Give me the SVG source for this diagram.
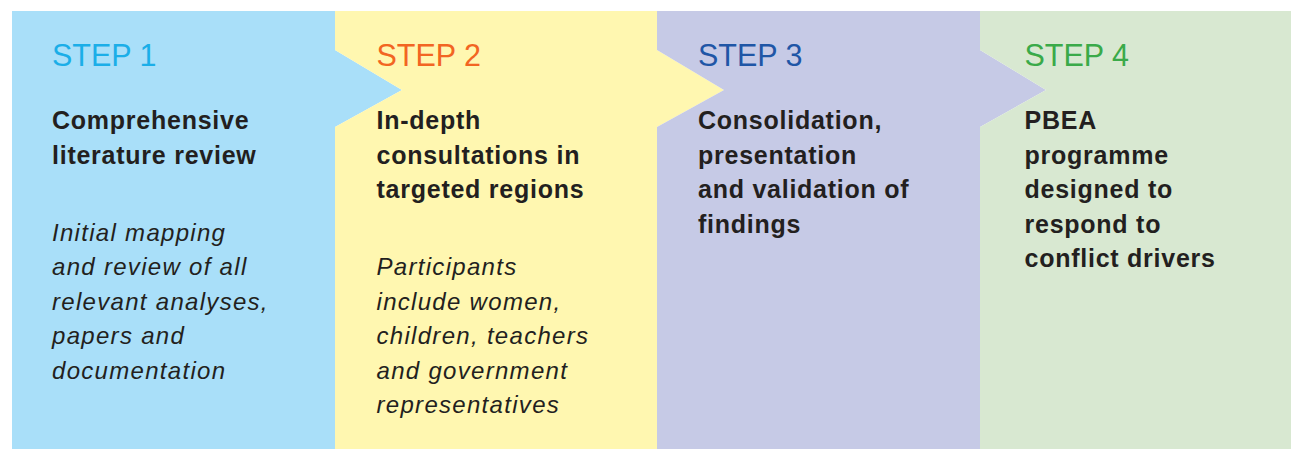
<svg xmlns="http://www.w3.org/2000/svg" width="1291" height="449" viewBox="0 0 1291 449">
<style>
.step{font-family:"Liberation Sans",Arial,sans-serif;font-size:30.5px}
.title{font-family:"Liberation Sans",Arial,sans-serif;font-size:25px;font-weight:bold;fill:#231F20;letter-spacing:0.75px}
.desc{font-family:"Liberation Sans",Arial,sans-serif;font-size:24px;font-style:italic;fill:#231F20;letter-spacing:1.3px}
</style>
<rect width="1291" height="449" fill="#ffffff"/>
<g id="step1">
<polygon points="12,11 335,11 335,50 402,90 335,127 335,449 12,449" fill="#A9DFF9"/>
<text class="step" x="52" y="66" fill="#1BAEE8">STEP 1</text>
<text class="title" x="52" y="129">Comprehensive</text>
<text class="title" x="52" y="163.5">literature review</text>
<text class="desc" x="52" y="240.5">Initial mapping</text>
<text class="desc" x="52" y="275">and review of all</text>
<text class="desc" x="52" y="309.5">relevant analyses,</text>
<text class="desc" x="52" y="344">papers and</text>
<text class="desc" x="52" y="378.5">documentation</text>
</g>
<g id="step2">
<polygon points="335,11 657,11 657,50 724,90 657,127 657,449 335,449 335,127 402,90 335,50" fill="#FFF7B0"/>
<text class="step" x="376.5" y="66" fill="#F26522">STEP 2</text>
<text class="title" x="376.5" y="129">In-depth</text>
<text class="title" x="376.5" y="163.5">consultations in</text>
<text class="title" x="376.5" y="198">targeted regions</text>
<text class="desc" x="376.5" y="275">Participants</text>
<text class="desc" x="376.5" y="309.5">include women,</text>
<text class="desc" x="376.5" y="344">children, teachers</text>
<text class="desc" x="376.5" y="378.5">and government</text>
<text class="desc" x="376.5" y="413">representatives</text>
</g>
<g id="step3">
<polygon points="657,11 980,11 980,50 1046,90 980,127 980,449 657,449 657,127 724,90 657,50" fill="#C6CAE6"/>
<text class="step" x="698" y="66" fill="#1F56A6">STEP 3</text>
<text class="title" x="698" y="129">Consolidation,</text>
<text class="title" x="698" y="163.5">presentation</text>
<text class="title" x="698" y="198">and validation of</text>
<text class="title" x="698" y="232.5">findings</text>
</g>
<g id="step4">
<polygon points="980,11 1291,11 1291,449 980,449 980,127 1046,90 980,50" fill="#D8E8D1"/>
<text class="step" x="1024.5" y="66" fill="#3AAA49">STEP 4</text>
<text class="title" x="1024.5" y="129">PBEA</text>
<text class="title" x="1024.5" y="163.5">programme</text>
<text class="title" x="1024.5" y="198">designed to</text>
<text class="title" x="1024.5" y="232.5">respond to</text>
<text class="title" x="1024.5" y="267">conflict drivers</text>
</g>
<g id="connectors"/>
</svg>
